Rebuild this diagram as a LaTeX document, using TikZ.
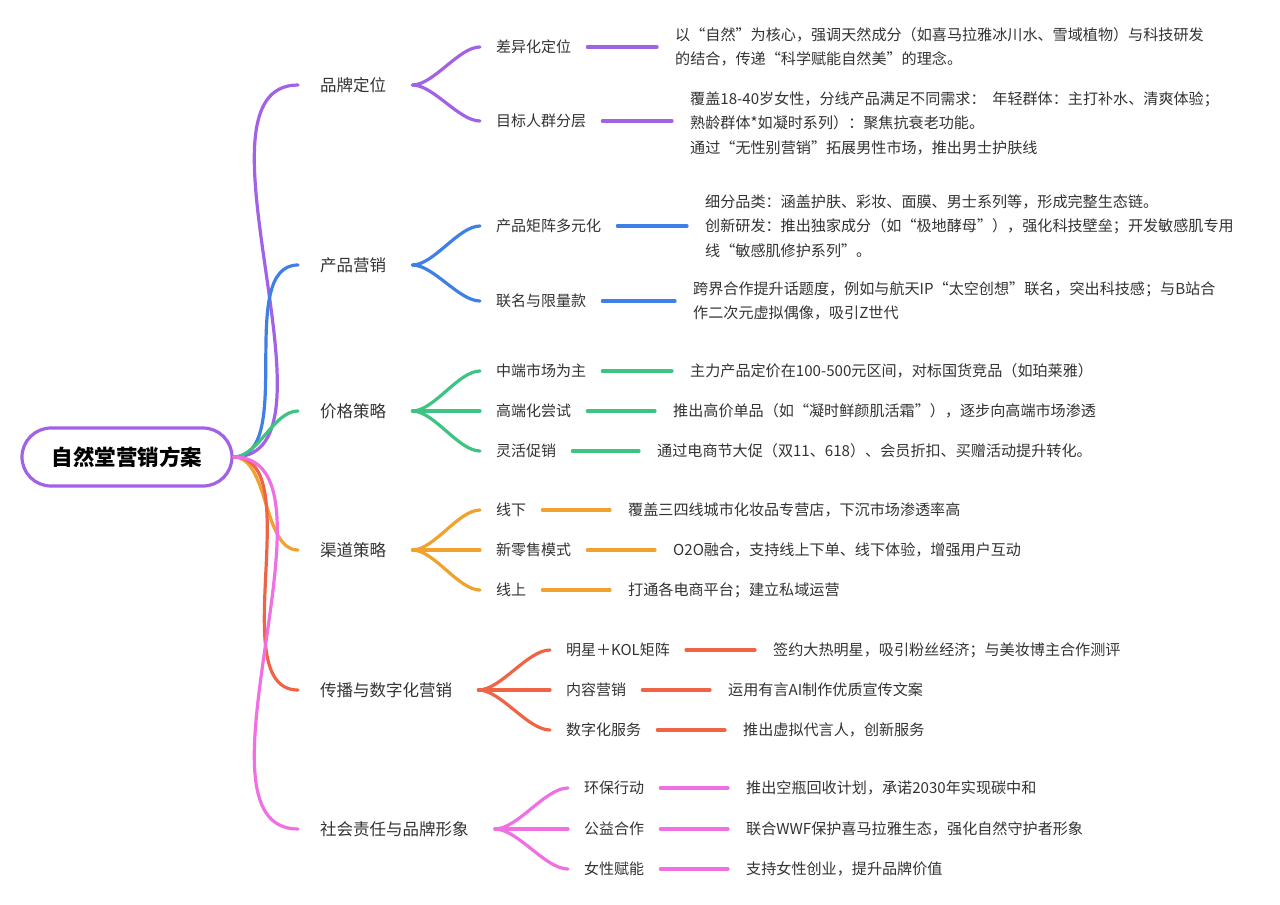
\documentclass[tikz,border=0pt]{standalone}
\usepackage{fontspec}
\setmainfont{Noto Sans CJK SC}
\definecolor{cP}{HTML}{A262E6}
\definecolor{cB}{HTML}{3F80E6}
\definecolor{cG}{HTML}{3EC482}
\definecolor{cO}{HTML}{F0A12E}
\definecolor{cR}{HTML}{F06446}
\definecolor{cK}{HTML}{F070E4}
\definecolor{tx}{HTML}{333333}
\tikzset{
 lvl/.style={anchor=west,inner sep=0pt,font=\fontsize{16.5}{20}\selectfont,text=tx},
 sub/.style={anchor=west,inner sep=0pt,font=\fontsize{15}{20}\selectfont,text=tx},
 desc/.style={anchor=west,inner sep=0pt,align=left,font=\fontsize{15.1}{24.5}\selectfont,text=tx},
 br/.style={line width=3.2pt,line cap=round},
}
\begin{document}
\begin{tikzpicture}[x=1pt,y=-1pt]
\useasboundingbox[fill=white] (0,0) rectangle (1280,905);
\node[draw=cP,line width=3.2pt,rounded corners=29pt,minimum width=210pt,minimum height=58pt,font=\fontsize{21.5}{24}\selectfont\bfseries,text=black] (root) at (127,457) {自然堂营销方案};

\newcommand\lone[5]{% name, x, y, color, text
 \node[lvl] (#1) at (#2,#3) {#5};
 \draw[br,#4] (root.east) to[out=0,in=180,looseness=0.8] ([xshift=-22pt]#1.west);}
\newcommand\ltwo[6]{% parent, name, x, y, color, text
 \node[sub] (#2) at (#3,#4) {#6};
 \draw[br,#5] ([xshift=26pt]#1.east) to[out=0,in=180,looseness=0.7] ([xshift=-16pt]#2.west);}
\newcommand\ldesc[6]{% child, name, x, y, color, text
 \node[desc] (#2) at (#3,#4) {#6};
 \draw[br,#5,shorten <=16pt,shorten >=18pt] (#1.east) -- (#1.east -| #2.west);}

\lone{a}{320}{85}{cP}{品牌定位}
\lone{b}{320}{265}{cB}{产品营销}
\lone{c}{320}{411}{cG}{价格策略}
\lone{d}{320}{550}{cO}{渠道策略}
\lone{e}{320}{690}{cR}{传播与数字化营销}
\lone{f}{320}{829}{cK}{社会责任与品牌形象}

\ltwo{a}{a1}{496}{47}{cP}{差异化定位}
\ltwo{a}{a2}{496}{121}{cP}{目标人群分层}
\ldesc{a1}{da1}{675}{47}{cP}{以“自然”为核心，强调天然成分（如喜马拉雅冰川水、雪域植物）与科技研发\\的结合，传递“科学赋能自然美”的理念。}
\ldesc{a2}{da2}{690}{123}{cP}{覆盖18-40岁女性，分线产品满足不同需求：\ \ 年轻群体：主打补水、清爽体验；\\熟龄群体*如凝时系列）：聚焦抗衰老功能。\\通过“无性别营销”拓展男性市场，推出男士护肤线}

\ltwo{b}{b1}{496}{226}{cB}{产品矩阵多元化}
\ltwo{b}{b2}{496}{301}{cB}{联名与限量款}
\ldesc{b1}{db1}{705}{226}{cB}{细分品类：涵盖护肤、彩妆、面膜、男士系列等，形成完整生态链。\\创新研发：推出独家成分（如“极地酵母”），强化科技壁垒；开发敏感肌专用\\线“敏感肌修护系列”。}
\ldesc{b2}{db2}{693}{301}{cB}{跨界合作提升话题度，例如与航天IP“太空创想”联名，突出科技感；与B站合\\作二次元虚拟偶像，吸引Z世代}

\ltwo{c}{c1}{496}{371}{cG}{中端市场为主}
\ltwo{c}{c2}{496}{411}{cG}{高端化尝试}
\ltwo{c}{c3}{496}{451}{cG}{灵活促销}
\ldesc{c1}{dc1}{690}{371}{cG}{主力产品定价在100-500元区间，对标国货竞品（如珀莱雅）}
\ldesc{c2}{dc2}{673}{411}{cG}{推出高价单品（如“凝时鲜颜肌活霜”），逐步向高端市场渗透}
\ldesc{c3}{dc3}{657}{451}{cG}{通过电商节大促（双11、618）、会员折扣、买赠活动提升转化。}

\ltwo{d}{d1}{496}{510}{cO}{线下}
\ltwo{d}{d2}{496}{550}{cO}{新零售模式}
\ltwo{d}{d3}{496}{590}{cO}{线上}
\ldesc{d1}{dd1}{628}{510}{cO}{覆盖三四线城市化妆品专营店，下沉市场渗透率高}
\ldesc{d2}{dd2}{673}{550}{cO}{O2O融合，支持线上下单、线下体验，增强用户互动}
\ldesc{d3}{dd3}{628}{590}{cO}{打通各电商平台；建立私域运营}

\ltwo{e}{e1}{566}{650}{cR}{明星＋KOL矩阵}
\ltwo{e}{e2}{566}{690}{cR}{内容营销}
\ltwo{e}{e3}{566}{730}{cR}{数字化服务}
\ldesc{e1}{de1}{773}{650}{cR}{签约大热明星，吸引粉丝经济；与美妆博主合作测评}
\ldesc{e2}{de2}{728}{690}{cR}{运用有言AI制作优质宣传文案}
\ldesc{e3}{de3}{743}{730}{cR}{推出虚拟代言人，创新服务}

\ltwo{f}{f1}{584}{788}{cK}{环保行动}
\ltwo{f}{f2}{584}{829}{cK}{公益合作}
\ltwo{f}{f3}{584}{869}{cK}{女性赋能}
\ldesc{f1}{df1}{746}{788}{cK}{推出空瓶回收计划，承诺2030年实现碳中和}
\ldesc{f2}{df2}{746}{829}{cK}{联合WWF保护喜马拉雅生态，强化自然守护者形象}
\ldesc{f3}{df3}{746}{869}{cK}{支持女性创业，提升品牌价值}
\end{tikzpicture}
\end{document}
